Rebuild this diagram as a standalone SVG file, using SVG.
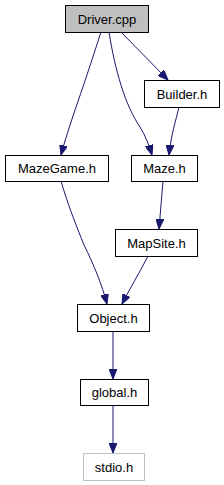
<svg xmlns="http://www.w3.org/2000/svg" width="224" height="485" viewBox="0 0 224 485">
<style>
.n rect{fill:#ffffff;stroke:#000000;stroke-width:1}
.n text{font-family:"Liberation Sans",Arial,Helvetica,sans-serif;font-size:13px;fill:#000000;text-anchor:middle}
.e path{fill:none;stroke:#191970;stroke-width:1;marker-end:url(#ah)}
</style>
<defs>
<marker id="ah" markerWidth="11" markerHeight="8" refX="10" refY="4" orient="auto" markerUnits="userSpaceOnUse">
<path d="M0,0 L10,4 L0,8 z" fill="#191970" stroke="#191970" stroke-width="1"/>
</marker>
</defs>
<rect width="224" height="485" fill="#ffffff"/>
<g id="connectors" class="e">
<path d="M121,32 L168,80"/>
<path d="M101,32 C92,60 82,90 75,110 C70,125 65,140 61,155"/>
<path d="M109,32 C115,70 125,105 140,127 C145,135 149,145 152,155"/>
<path d="M179,107 C176,120 171,135 169,155"/>
<path d="M163,181 L159,229"/>
<path d="M61,181 C68,205 76,225 84,245 C94,265 102,285 107,304"/>
<path d="M148,256 C140,272 130,288 122,304"/>
<path d="M113,331 L113,379"/>
<path d="M113,405 L113,453"/>
</g>
<g id="driver" class="n"><rect x="65.5" y="5.5" width="83" height="27" style="fill:#bfbfbf"/><text x="107" y="23.5">Driver.cpp</text></g>
<g id="builder" class="n"><rect x="144.5" y="80.5" width="75" height="27"/><text x="182" y="98.5">Builder.h</text></g>
<g id="mazegame" class="n"><rect x="5.5" y="155.5" width="103" height="26"/><text x="57" y="173">MazeGame.h</text></g>
<g id="maze" class="n"><rect x="131.5" y="155.5" width="66" height="26"/><text x="164.5" y="173">Maze.h</text></g>
<g id="mapsite" class="n"><rect x="115.5" y="229.5" width="82" height="27"/><text x="156.5" y="247.5">MapSite.h</text></g>
<g id="object" class="n"><rect x="77.5" y="304.5" width="72" height="27"/><text x="113.5" y="322.5">Object.h</text></g>
<g id="global" class="n"><rect x="80.5" y="379.5" width="68" height="26"/><text x="114.5" y="397">global.h</text></g>
<g id="stdio" class="n"><rect x="83.5" y="453.5" width="61" height="27" style="stroke:#bfbfbf"/><text x="114" y="471.5">stdio.h</text></g>
</svg>
